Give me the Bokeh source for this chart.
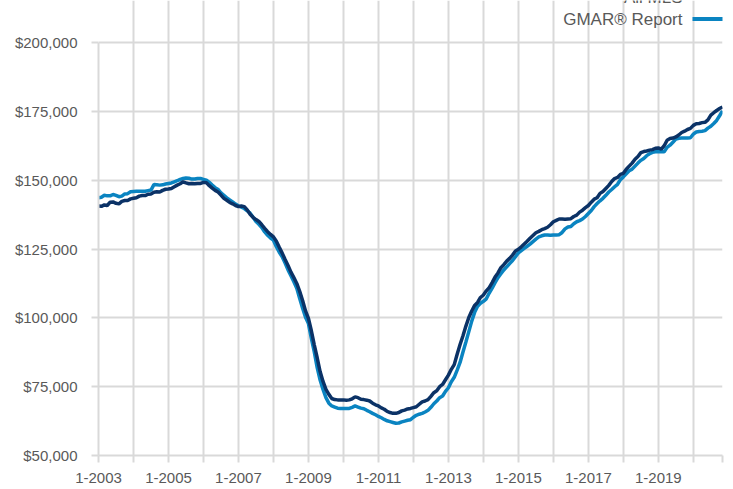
import numpy as np
from bokeh.plotting import figure
from bokeh.models import (Range1d, FixedTicker, NumeralTickFormatter, Label, Arrow,
                          ColumnDataSource)
from bokeh.embed import file_html
from bokeh.resources import INLINE

# ---- data (median price, $ thousands, monthly from Jan 2003) ----
series_names = ["All MLS", "GMAR\u00ae Report"]
all_mls = [
    140.6, 140.5, 141.0, 140.8, 142.0, 142.1, 141.6, 141.4, 142.3, 142.6, 142.6, 143.2,
    143.4, 143.6, 144.2, 144.4, 144.4, 144.9, 145.0, 145.6, 145.8, 145.7, 146.3, 146.7,
    146.8, 147.0, 147.6, 148.2, 148.7, 149.4, 149.0, 148.7, 148.8, 148.7, 148.8, 148.8,
    149.2, 149.1, 148.0, 147.1, 146.3, 145.7, 144.6, 143.4, 142.7, 141.9, 141.4, 140.8,
    140.4, 140.6, 140.4, 139.2, 137.6, 136.5, 135.7, 135.0, 133.8, 132.5, 131.3, 130.3,
    129.4, 127.8, 125.6, 123.5, 121.2, 119.0, 116.6, 114.6, 112.5, 109.6, 106.3, 102.5,
    99.8, 95.3, 90.2, 85.5, 80.5, 76.9, 74.0, 72.2, 70.7, 70.3, 70.2, 70.2,
    70.2, 70.1, 70.2, 70.6, 71.3, 71.0, 70.4, 70.3, 70.1, 69.8, 69.0, 68.4,
    68.0, 67.3, 66.8, 66.0, 65.6, 65.3, 65.3, 65.6, 66.2, 66.5, 66.9, 67.1,
    67.4, 67.7, 68.6, 69.5, 69.8, 70.3, 71.5, 72.8, 73.5, 75.0, 75.8, 77.5,
    79.2, 81.3, 83.0, 86.8, 90.3, 93.5, 97.0, 100.1, 102.5, 104.5, 105.6, 107.4,
    108.3, 109.8, 111.0, 112.8, 114.8, 116.3, 118.2, 119.3, 120.6, 121.6, 122.8, 124.3,
    124.9, 125.8, 126.8, 127.8, 128.9, 129.9, 130.9, 131.4, 132.0, 132.4, 132.9, 133.8,
    134.9, 135.4, 135.9, 135.9, 135.8, 135.9, 136.0, 136.8, 137.3, 138.4, 139.1, 140.0,
    140.8, 142.0, 143.1, 143.6, 145.2, 145.9, 147.0, 148.1, 149.5, 150.6, 151.0, 152.1,
    152.5, 154.0, 155.1, 156.2, 157.6, 158.6, 160.0, 160.4, 160.6, 160.9, 161.1, 161.6,
    161.7, 161.3, 162.5, 164.5, 165.1, 165.3, 165.7, 166.4, 167.3, 167.8, 168.4, 168.8,
    169.9, 170.5, 170.6, 170.9, 171.0, 171.9, 173.6, 174.5, 175.3, 176.0, 176.6,
]
gmar_report = [
    143.6, 143.8, 144.5, 144.3, 144.3, 144.8, 144.5, 144.0, 144.2, 145.0, 145.1, 145.8,
    145.9, 146.0, 146.0, 146.0, 146.0, 146.2, 146.4, 148.4, 148.3, 148.2, 148.3, 148.6,
    148.8, 149.0, 149.4, 149.8, 150.3, 150.6, 150.8, 150.7, 150.4, 150.4, 150.6, 150.6,
    150.3, 150.0, 149.2, 148.2, 147.3, 146.6, 145.4, 144.5, 143.6, 142.8, 142.1, 141.3,
    140.7, 140.2, 139.7, 138.9, 138.0, 136.5, 135.0, 134.0, 132.8, 131.2, 130.0, 129.0,
    128.2, 125.8, 123.8, 122.2, 119.9, 117.4, 115.3, 113.1, 110.7, 107.0, 103.5, 100.2,
    97.9, 92.5, 87.6, 81.9, 77.4, 74.0, 71.0, 69.0, 68.0, 67.6, 67.2, 67.1,
    67.1, 67.1, 67.1, 67.5, 68.0, 67.6, 67.2, 67.0, 66.4, 65.9, 65.3, 64.8,
    64.2, 63.7, 63.1, 62.6, 62.3, 62.0, 61.7, 61.8, 62.2, 62.5, 62.8, 63.0,
    63.9, 64.6, 65.0, 65.3, 65.8, 66.4, 67.5, 68.8, 69.8, 71.0, 71.6, 73.3,
    74.6, 76.8, 78.4, 81.0, 83.8, 87.6, 91.2, 95.0, 98.8, 102.0, 104.2, 105.3,
    106.0, 106.9, 109.0, 110.8, 112.8, 114.6, 116.0, 117.4, 118.5, 119.7, 120.8, 122.2,
    123.6, 124.4, 125.2, 126.0, 126.8, 127.7, 128.6, 129.4, 129.8, 130.1, 130.1, 130.0,
    130.1, 130.1, 130.2, 131.0, 132.3, 133.0, 133.2, 134.2, 134.9, 135.3, 135.9, 136.8,
    137.9, 139.0, 140.4, 141.5, 142.5, 143.4, 144.5, 145.7, 146.6, 147.6, 148.5, 150.2,
    151.2, 152.3, 153.4, 154.0, 155.1, 156.2, 157.2, 157.9, 158.9, 159.6, 160.1, 160.3,
    160.3, 160.3, 160.3, 161.9, 162.7, 163.8, 164.9, 165.2, 165.3, 165.3, 165.3, 165.4,
    166.7, 167.5, 167.7, 167.8, 168.0, 168.9, 169.6, 170.6, 171.7, 173.4, 175.2,
]
tick_labels = ["1-2003", "1-2005", "1-2007", "1-2009", "1-2011",
               "1-2013", "1-2015", "1-2017", "1-2019"]
y_ticks = [50000, 75000, 100000, 125000, 150000, 175000, 200000]

NAVY = "#0b3266"
BLUE = "#0a84c1"
GRID = "#d9d9d9"
TEXT = "#595959"
FONT = "Liberation Sans"

W, H = 733, 489
BORDER_L, BORDER_R, BORDER_B = 98, 11, 34
TOP_GAP = 42          # px between canvas top and the top ($200,000) gridline
frame_h = H - BORDER_B
y_lo, y_hi = y_ticks[0], y_ticks[-1]
y_top = y_hi + TOP_GAP * (y_hi - y_lo) / (frame_h - TOP_GAP)

n = len(all_mls)
months = np.arange(n)
src = ColumnDataSource(dict(m=months,
                            mls=np.array(all_mls) * 1000,
                            gmar=np.array(gmar_report) * 1000))

p = figure(width=W, height=H, output_backend="svg", toolbar_location=None,
           x_range=Range1d(0, n - 1), y_range=Range1d(y_lo, y_top),
           min_border_left=BORDER_L, min_border_right=BORDER_R, min_border_top=0,
           min_border_bottom=BORDER_B)
p.outline_line_color = None
p.background_fill_color = "white"
p.border_fill_color = "white"

p.line("m", "gmar", source=src, color=BLUE, line_width=3.5)
p.line("m", "mls", source=src, color=NAVY, line_width=3.5)

# axes / grids
xt = list(range(0, n - 1, 12)) + [n - 1]
overrides = {t: "" for t in xt}
for i, lab in enumerate(tick_labels):
    overrides[i * 24] = lab
p.xaxis.ticker = FixedTicker(ticks=xt)
p.xaxis.major_label_overrides = overrides
p.yaxis.ticker = FixedTicker(ticks=y_ticks)
p.yaxis.formatter = NumeralTickFormatter(format="$0,0")
p.yaxis.bounds = (y_lo, y_hi)
for ax in (p.xaxis[0], p.yaxis[0]):
    ax.axis_line_color = GRID
    ax.axis_line_width = 2
    ax.major_tick_line_color = GRID
    ax.major_tick_line_width = 2
    ax.major_tick_out = 7
    ax.major_tick_in = 0
    ax.minor_tick_line_color = None
    ax.major_label_text_font = FONT
    ax.major_label_text_font_size = "15px"
    ax.major_label_text_color = TEXT
p.xaxis.major_label_standoff = 10
p.yaxis.major_label_standoff = 14
p.xgrid.ticker = FixedTicker(ticks=xt)
p.xgrid.bounds = (y_lo, y_hi)
p.ygrid.ticker = FixedTicker(ticks=y_ticks)
for g in (p.xgrid[0], p.ygrid[0]):
    g.grid_line_color = GRID
    g.grid_line_width = 2

# legend (text with line sample to its right); screen units from frame bottom-left
leg_text_x = 584
leg_line_x0 = 594
leg_line_x1 = 625
leg_rows = [458, 436.5]
for name, col, yy in zip(series_names, [NAVY, BLUE], leg_rows):
    p.add_layout(Label(x=leg_text_x, y=yy, x_units="screen", y_units="screen",
                       text=name, text_align="right",
                       text_baseline="middle", text_font=FONT,
                       text_font_size="17px", text_color=TEXT))
    p.add_layout(Arrow(x_start=leg_line_x0, y_start=yy, x_end=leg_line_x1, y_end=yy,
                       start_units="screen", end_units="screen",
                       end=None, start=None, line_color=col, line_width=4))

open("out.html", "w").write(file_html(p, INLINE))
